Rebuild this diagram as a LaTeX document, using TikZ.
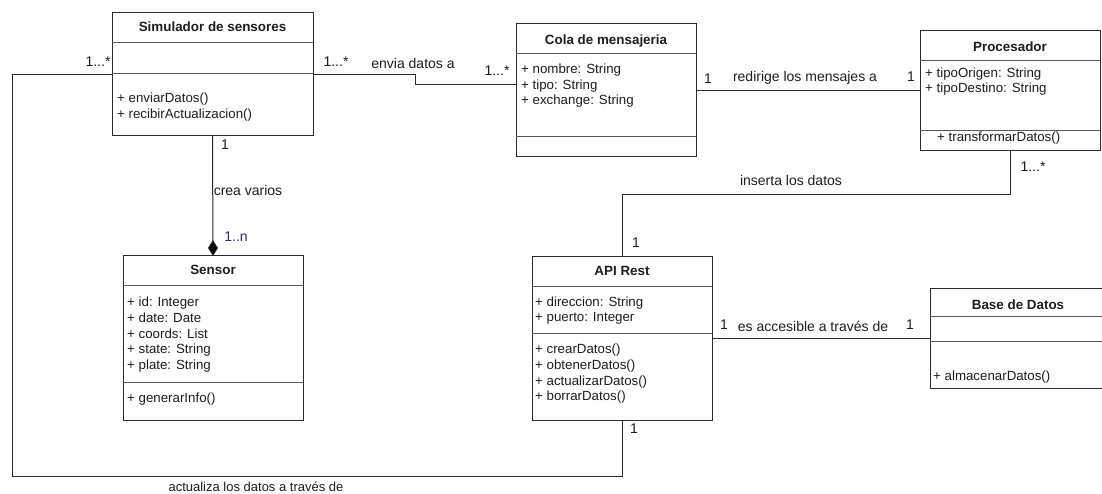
\documentclass[tikz,border=0pt]{standalone}
\usepackage{fontspec}
\setmainfont{Liberation Sans}
\usetikzlibrary{arrows.meta}

\definecolor{edge}{HTML}{2B2B2B}
\definecolor{rule}{HTML}{5A5A5A}
\definecolor{ink}{HTML}{1E1E1E}
\definecolor{mult}{HTML}{2E2E66}

\tikzset{
  classbox/.style={draw=edge, line width=1pt, fill=none, inner sep=0pt, outer sep=0pt},
  divider/.style={draw=rule, line width=0.8pt},
  title/.style={font=\bfseries\fontsize{13.4}{16}\selectfont, text=ink, inner sep=0pt, anchor=center},
  member/.style={font=\fontsize{13.3}{16}\selectfont, text=ink, inner sep=0pt, anchor=west},
  lbl/.style={font=\fontsize{14}{16}\selectfont, text=ink, inner sep=0pt, anchor=center},
  link/.style={draw=edge, line width=1pt},
}

% class box: name, left, top, right, bottom
\newcommand{\umlbox}[5]{%
  \node[classbox, minimum width={(#4)-(#2)}, minimum height={(#5)-(#3)}]
    (#1) at ({((#2)+(#4))/2},{((#3)+(#5))/2}) {};%
}

\begin{document}
\begin{tikzpicture}[x=1pt, y=-1pt]
\useasboundingbox (0,0) rectangle (1102,494);
\clip (0,0) rectangle (1102,494);
\fill[white] (0,0) rectangle (1102,494);

% ---------- Simulador de sensores ----------
\umlbox{sim}{112}{13}{313}{136}
\draw[divider] (112,42) -- (313,42);
\draw[divider] (112,73) -- (313,73);
\node[title] (simT) at (sim.north |- 0,27) {Simulador de sensores};
\node[member] (simM1) at (117,99) {+ enviarDatos()};
\node[member] (simM2) at (117,115) {+ recibirActualizacion()};

% ---------- Cola de mensajeria ----------
\umlbox{cola}{516}{24}{696}{157}
\draw[divider] (516,53) -- (696,53);
\draw[divider] (516,136) -- (696,136);
\node[title] (colaT) at (cola.north |- 0,41) {Cola de mensajeria};
\node[member] (colaA1) at (521,70) {+ nombre: String};
\node[member] (colaA2) at (521,86) {+ tipo: String};
\node[member] (colaA3) at (521,101) {+ exchange: String};

% ---------- Procesador ----------
\umlbox{proc}{920}{31}{1100}{151}
\draw[divider] (920,60) -- (1100,60);
\draw[divider] (920,130) -- (1100,130);
\node[title] (procT) at (proc.north |- 0,47) {Procesador};
\node[member] (procA1) at (925,74) {+ tipoOrigen: String};
\node[member] (procA2) at (925,89) {+ tipoDestino: String};
\node[member] (procM1) at (937,138) {+ transformarDatos()};

% ---------- Sensor ----------
\umlbox{sensor}{123}{256}{303}{420}
\draw[divider] (123,285) -- (303,285);
\draw[divider] (123,382) -- (303,382);
\node[title] (sensorT) at (sensor.north |- 0,270) {Sensor};
\node[member] (sensorA1) at (127,303) {+ id: Integer};
\node[member] (sensorA2) at (127,318) {+ date: Date};
\node[member] (sensorA3) at (127,334) {+ coords: List};
\node[member] (sensorA4) at (127,350) {+ state: String};
\node[member] (sensorA5) at (127,366) {+ plate: String};
\node[member] (sensorM1) at (127,399) {+ generarInfo()};

% ---------- API Rest ----------
\umlbox{api}{532}{257}{712}{420}
\draw[divider] (532,286) -- (712,286);
\draw[divider] (532,333) -- (712,333);
\node[title] (apiT) at (api.north |- 0,271) {API Rest};
\node[member] (apiA1) at (535,303) {+ direccion: String};
\node[member] (apiA2) at (535,318) {+ puerto: Integer};
\node[member] (apiM1) at (535,350) {+ crearDatos()};
\node[member] (apiM2) at (535,366) {+ obtenerDatos()};
\node[member] (apiM3) at (535,382) {+ actualizarDatos()};
\node[member] (apiM4) at (535,397) {+ borrarDatos()};

% ---------- Base de Datos ----------
\umlbox{db}{930}{288}{1108}{388}
\draw[divider] (930,316) -- (1108,316);
\draw[divider] (930,341) -- (1108,341);
\node[title] (dbT) at (1018,305) {Base de Datos};
\node[member] (dbM1) at (933,377) {+ almacenarDatos()};

% ---------- connectors ----------
\coordinate (step1) at (415,85);
\draw[link] (sim.east) -| (step1) -- (step1 -| cola.west);

\draw[link] (cola.east) -- (cola.east -| proc.west);

\path (api.north) ++(0,-62) coordinate (insTurn);
\draw[link] (proc.south) |- (insTurn) -- (api.north);

\draw[link] (api.east) -- (api.east -| db.west);

\coordinate (lowLeft) at (12,476);
\draw[link] (sim.west) -| (lowLeft) -| (api.south);

\draw[link, -{Diamond[length=16pt, width=10pt, fill=black]}] (sim.south) -- (sensor.north);

% ---------- association labels ----------
\node[lbl] (mSimL) at (98,62) {1...*};
\node[lbl] (mSimR) at (336,62) {1...*};
\node[lbl] (tEnvia) at (413,63) {envia datos a};
\node[lbl] (mColaL) at (497,71) {1...*};
\node[lbl] (mColaR) at (708,79) {1};
\node[lbl] (tRedir) at (805,78) {redirige los mensajes a};
\node[lbl] (mProcL) at (911,77) {1};
\node[lbl] (mProcB) at (1033,167) {1...*};
\node[lbl] (tInserta) at (791,180) {inserta los datos};
\node[lbl] (mApiT) at (636,243) {1};
\node[lbl] (mApiR) at (724,325) {1};
\node[lbl] (tAccesible) at (813,326) {es accesible a través de};
\node[lbl] (mDbL) at (910,325) {1};
\node[lbl] (mApiB) at (634,429) {1};
\node[lbl, font=\fontsize{13}{16}\selectfont] (tActualiza) at (256,487) {actualiza los datos a través de};
\node[lbl] (mSimB) at (225,145) {1};
\node[lbl] (tCrea) at (248,190) {crea varios};
\node[lbl, text=mult] (mSensor) at (236,237) {1..n};
\end{tikzpicture}
\end{document}
